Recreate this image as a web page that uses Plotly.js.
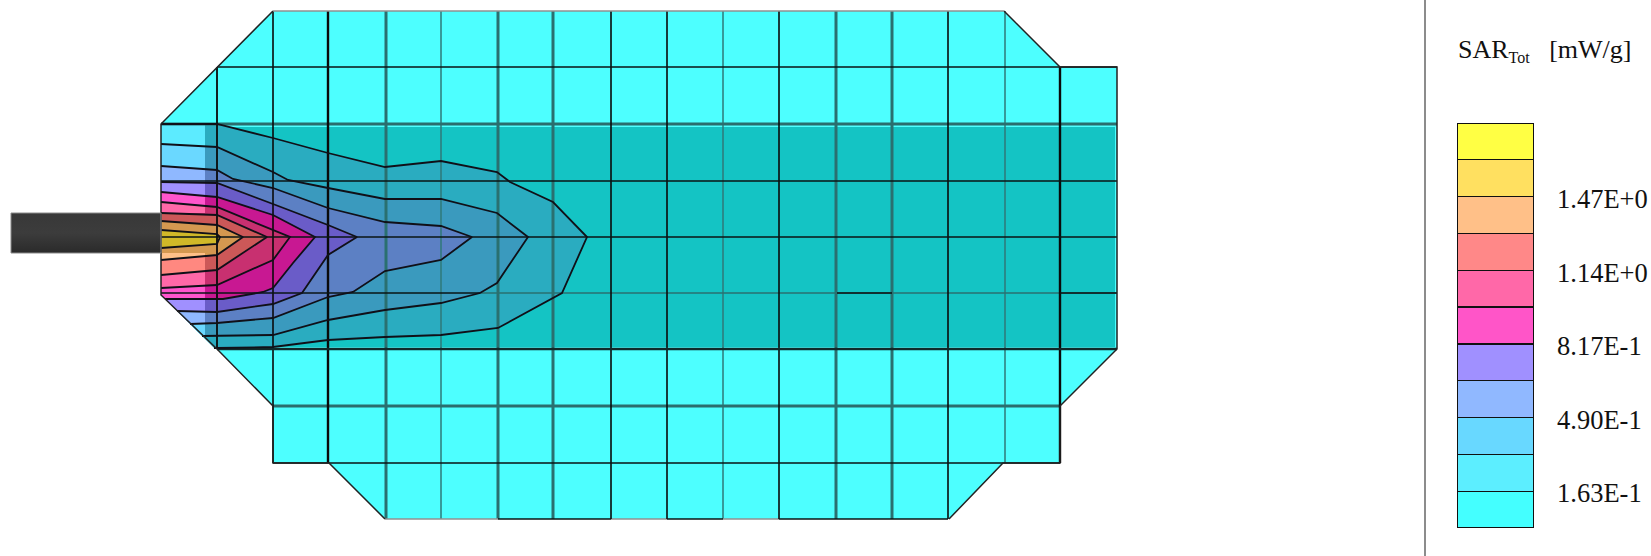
<!DOCTYPE html>
<html><head><meta charset="utf-8">
<script src="https://cdn.plot.ly/plotly-3.0.1.min.js"></script>
<style>html,body{margin:0;padding:0;background:#fff;overflow:hidden}#g{width:1651px;height:556px}</style>
</head><body><div id="g"></div>
<script>
// ---------- colour bar ----------
const levelWidth = 0.1634;
const binColors = ['#44FFFF','#5CEEFF','#68D8FF','#90B8FF','#A090FF','#FF55C8','#FF68A8','#FF8888','#FFC088','#FFE060','#FFFF44'];
const tickValues = [0.1634,0.4902,0.817,1.1438,1.4706];
const tickLabels = ['1.63E-1','4.90E-1','8.17E-1','1.14E+0','1.47E+0'];
// ---------- band colours, outermost contour first ----------
const bandLight = ['#5CEBFF','#6AD8FF','#8FB8FF','#A090FF','#FF55CC','#FF68A8','#FF8880','#FFC088','#FFE060'];
const bandDark  = ['#2AACC0','#3A9ABE','#5C80C4','#6A5CC8','#C81892','#C83070','#CC5858','#D49850','#D0B828'];
// ---------- body outline ----------
const outlineX = [273,1004,1060,1117,1117,1060,1060,1003,949,385,329,273,273,217,161,161,217,273];
const outlineY = [11,11,67,67,349,406,463,463,519,519,463,463,406,349,295,124,67,11];
// ---------- contour curves (wall -> apex -> wall) ----------
const c1x=[161,217,273,328,385,441,497,510,553,587,562,498,441,385,328,273,217,214];
const c1y=[124,124,138,153,167,161,172,182,202,237,293,328,335,337,340,347,348,348];
const c2x=[161,217,273,288,328,385,441,497,528,497,480,441,385,328,273,217,202];
const c2y=[144,147,172,180,188,199,199,213,237,283,293,303,310,320,335,336,336];
const c3x=[161,217,233,273,328,385,441,472,441,385,353,328,273,217,190];
const c3y=[166,170,179,188,208,222,226,237,260,271,292,297,318,323,324];
const c4x=[161,217,273,328,357,328,302,273,217,177];
const c4y=[182,183,204,225,237,255,293,304,312,311];
const c5x=[161,217,273,315,293,273,263,223,165];
const c5y=[192,197,215,237,263,288,292,299,299];
const c6x=[161,217,290,273,217,161];
const c6y=[202,207,237,260,285,288];
const c7x=[161,217,267,217,161];
const c7y=[213,215,237,270,275];
const c8x=[161,217,243,217,161];
const c8y=[221,225,237,255,260];
const c9x=[161,217,220,217,161];
const c9y=[230,234,237,244,248];
const curvesX=[c1x,c2x,c3x,c4x,c5x,c6x,c7x,c8x,c9x];
const curvesY=[c1y,c2y,c3y,c4y,c5y,c6y,c7y,c8y,c9y];
const endsOnDiagonal=[true,true,true,true,true,false,false,false,false];
const wallFoot=[161,295];
// ---------- mesh: [position, from, to] ----------
const vBlackThin=[[273,11,463],[611,11,519],[667,11,519],[779,11,519],[948,11,519]];
const vBlackThick=[[328,11,463],[1060,67,463]];
const vTealThick=[[386,11,519],[498,11,519],[553,11,519],[836,11,519],[892,11,519]];
const vTealThin=[[441,11,519],[723,11,519],[1005,11,463]];
const vBlackMid=[[217,67,349]];
const hBlackThin=[[67,217,1117],[181,161,1117],[237,161,1117],[463,273,1060],[293,161,480],[293,837,892],[293,1060,1117],[519,498,611],[519,667,723],[519,779,948]];
const hBlackThick=[[349,217,1117]];
const hTealThick=[[124,161,1117],[406,273,1060]];
const hTealThin=[[293,480,1117]];
const hGrey=[[519,385,498],[519,611,667],[519,723,779]];
// ---------- cable, dark box & separator ----------
const cableX=[11,161,161,11,11], cableY=[213,213,253,253,213];
const darkBoxX=[205,1115,1115,214,205,205], darkBoxY=[127,127,347,347,338,127];
const separatorX=[1425,1425], separatorY=[0,556];

function clip(poly,x0,x1,y0,y1){
  const edges=[[p=>p[0]>=x0,(a,b)=>{const t=(x0-a[0])/(b[0]-a[0]);return [x0,a[1]+t*(b[1]-a[1])]}],
    [p=>p[0]<=x1,(a,b)=>{const t=(x1-a[0])/(b[0]-a[0]);return [x1,a[1]+t*(b[1]-a[1])]}],
    [p=>p[1]>=y0,(a,b)=>{const t=(y0-a[1])/(b[1]-a[1]);return [a[0]+t*(b[0]-a[0]),y0]}],
    [p=>p[1]<=y1,(a,b)=>{const t=(y1-a[1])/(b[1]-a[1]);return [a[0]+t*(b[0]-a[0]),y1]}]];
  let out=poly;
  for(const [inside,cut] of edges){
    const res=[];
    for(let i=0;i<out.length;i++){
      const a=out[i],b=out[(i+1)%out.length];
      if(inside(a)){res.push(a); if(!inside(b)) res.push(cut(a,b));}
      else if(inside(b)) res.push(cut(a,b));
    }
    out=res; if(!out.length) break;
  }
  return out;
}
const fillTrace=(xs,ys,color)=>({x:xs,y:ys,type:'scatter',mode:'lines',fill:'toself',fillcolor:color,line:{width:0},hoverinfo:'skip',showlegend:false});
const segs=(list,vertical)=>{const x=[],y=[];list.forEach(([p,a,b])=>{if(vertical){x.push(p,p,null);y.push(a,b,null);}else{x.push(a,b,null);y.push(p,p,null);}});return {x,y};};
const lineTrace=(d,color,w)=>({x:d.x,y:d.y,type:'scatter',mode:'lines',line:{color:color,width:w},hoverinfo:'skip',showlegend:false,connectgaps:false});

const traces=[];
traces.push(fillTrace(outlineX,outlineY,'#4DFFFF'));
traces.push(fillTrace(darkBoxX,darkBoxY,'#14C4C4'));
curvesX.forEach((xs,i)=>{
  const px=endsOnDiagonal[i]?xs.concat([wallFoot[0]]):xs;
  const py=endsOnDiagonal[i]?curvesY[i].concat([wallFoot[1]]):curvesY[i];
  traces.push(fillTrace(px,py,bandDark[i]));
});
[[0,213],[253,556]].forEach(([y0,y1])=>{
  curvesX.forEach((xs,i)=>{
    const px=endsOnDiagonal[i]?xs.concat([wallFoot[0]]):xs;
    const py=endsOnDiagonal[i]?curvesY[i].concat([wallFoot[1]]):curvesY[i];
    const c=clip(px.map((v,k)=>[v,py[k]]),161,205,y0,y1);
    if(c.length>2) traces.push(fillTrace(c.map(p=>p[0]),c.map(p=>p[1]),bandLight[i]));
  });
});
traces.push(lineTrace(segs(vTealThin,true),'#2F7878',1.5));
traces.push(lineTrace(segs(vTealThick,true),'#2A7070',3));
traces.push(lineTrace(segs(hTealThin,false),'#2A7070',1.5));
traces.push(lineTrace(segs(hTealThick,false),'#2A6E6E',3));
traces.push(lineTrace(segs(hGrey,false),'#909090',1.5));
traces.push(lineTrace(segs(vBlackThin,true),'#0A0A0A',1.6));
traces.push(lineTrace(segs(vBlackMid,true),'#0A0A0A',1.8));
traces.push(lineTrace(segs(vBlackThick,true),'#0A0A0A',2.4));
traces.push(lineTrace(segs(hBlackThin,false),'#0A1414',1.6));
traces.push(lineTrace(segs(hBlackThick,false),'#0F2A2A',2.6));
curvesX.forEach((xs,i)=>{traces.push(lineTrace({x:xs,y:curvesY[i]},'#101018',1.8));});
// outline edges except the grey top
traces.push(lineTrace({x:outlineX.slice(1,9),y:outlineY.slice(1,9)},'#222',1.5));
traces.push(lineTrace({x:outlineX.slice(9),y:outlineY.slice(9)},'#222',1.5));
traces.push(lineTrace({x:[273,1004],y:[11,11]},'#909090',1.6));
// cable
traces.push({x:cableX,y:cableY,type:'scatter',mode:'lines',fill:'toself',
  fillgradient:{type:'vertical',colorscale:[[0,'#2A2A2A'],[0.5,'#3C3C3C'],[1,'#383838']]},
  line:{color:'#8A8A8A',width:1},hoverinfo:'skip',showlegend:false});
traces.push(lineTrace({x:separatorX,y:separatorY},'#8C8C8C',2));
// colour bar
binColors.forEach((c,i)=>{
  traces.push({type:'bar',x:['bin'],y:[levelWidth],xaxis:'x2',yaxis:'y2',width:1,
    marker:{color:c,line:{color:'#111',width:1.2}},hoverinfo:'skip',showlegend:false});
});

const layout={
  width:1651,height:556,margin:{l:0,r:0,t:0,b:0},paper_bgcolor:'#fff',plot_bgcolor:'rgba(0,0,0,0)',
  barmode:'stack',showlegend:false,hovermode:false,
  xaxis:{range:[0,1651],domain:[0,1],visible:false,fixedrange:true},
  yaxis:{range:[556,0],domain:[0,1],visible:false,fixedrange:true},
  xaxis2:{domain:[1457/1651,1534/1651],anchor:'y2',visible:false,type:'category',range:[-0.5,0.5],fixedrange:true},
  yaxis2:{domain:[1-528/556,1-123/556],anchor:'x2',side:'right',range:[0,levelWidth*binColors.length],
    tickmode:'array',tickvals:tickValues,ticktext:tickLabels,ticks:'',showgrid:false,zeroline:false,showline:false,
    ticklabelstandoff:22,ticklabelshift:2,tickfont:{family:'"Liberation Serif",serif',size:26.5,color:'#111'},fixedrange:true},
  annotations:[{xref:'paper',yref:'paper',x:1456/1651,y:1-50/556,xanchor:'left',yanchor:'middle',showarrow:false,
    text:'SAR<sub><span style="font-size:16px">Tot</span></sub><span>\u00A0\u00A0\u00A0</span>[mW/g]',font:{family:'"Liberation Serif",serif',size:26,color:'#111'}}]
};
Plotly.newPlot('g',traces,layout,{displayModeBar:false,staticPlot:true});
</script></body></html>
